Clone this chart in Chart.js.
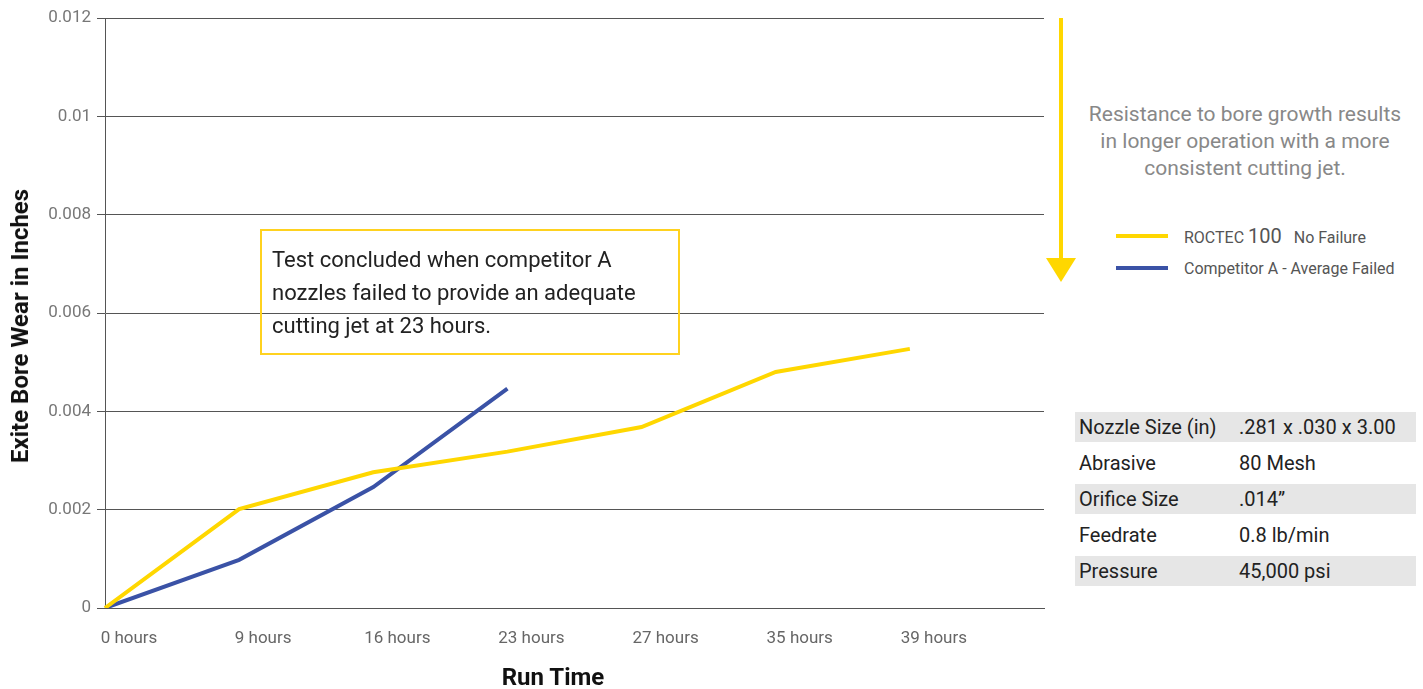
<!DOCTYPE html>
<html>
<head>
<meta charset="utf-8">
<script src="https://cdn.jsdelivr.net/npm/chart.js@4.4.1/dist/chart.umd.min.js"></script>
<style>
    body { margin: 0; background: #fff; font-family: "Liberation Sans Narrow", "Roboto", sans-serif; }
    #wrap { position: relative; width: 1423px; height: 689px; overflow: hidden; }
    #chartBox { position: absolute; left: 0; top: 0; width: 1065px; height: 689px; }
    .abs { position: absolute; }
    #yTitle { left: 20px; top: 326px; transform: translate(-50%, -50%) rotate(-90deg); font-weight: 700; font-size: 24px; color: #111; white-space: nowrap; }
    #xTitle { left: 553px; top: 677px; transform: translate(-50%, -50%); font-weight: 700; font-size: 24px; color: #111; white-space: nowrap; }
    #note { left: 260px; top: 229px; border: 2px solid #FFD21F; box-sizing: border-box; width: 420px; height: 126px; padding: 12px 10px; font-size: 22px; line-height: 33px; color: #222; }
    #arrowLine { left: 1059px; top: 18px; width: 4px; height: 242px; background: #FFD700; }
    #arrowHead { left: 1046px; top: 258px; width: 0; height: 0; border-left: 15px solid transparent; border-right: 15px solid transparent; border-top: 24px solid #FFD700; }
    #claim { left: 1080px; top: 101px; width: 330px; text-align: center; font-family: "Roboto", sans-serif; font-size: 21px; line-height: 27px; color: #888; }
    .legRow { left: 1116px; height: 20px; display: flex; align-items: center; font-size: 16px; color: #555; white-space: nowrap; }
    .legRow .sw { width: 52px; height: 4px; margin-right: 16px; }
    #specs { left: 1075px; top: 406px; width: 341px; border-collapse: separate; border-spacing: 0 6px; font-size: 20px; color: #222; }
    #specs td { height: 30px; padding: 0 0 0 4px; }
    #specs tr:nth-child(odd) td { background: #e6e6e6; }
    #specs td.v { padding-left: 0; }
</style>
</head>
<body>
<div id="wrap">
    <div id="chartBox"><canvas id="wearChart"></canvas></div>
    <div class="abs" id="yTitle">Exite Bore Wear in Inches</div>
    <div class="abs" id="xTitle">Run Time</div>
    <div class="abs" id="note">Test concluded when competitor A nozzles failed to provide an adequate cutting jet at 23 hours.</div>
    <div class="abs" id="arrowLine"></div>
    <div class="abs" id="arrowHead"></div>
    <div class="abs" id="claim">Resistance to bore growth results in longer operation with a more consistent cutting jet.</div>
    <div id="legend"></div>
    <table class="abs" id="specs"></table>
</div>
<script>
    // Data
    const runTimes = ['0 hours', '9 hours', '16 hours', '23 hours', '27 hours', '35 hours', '39 hours', ''];
    const roctecWear = [0, 0.00201, 0.00276, 0.00318, 0.00368, 0.00480, 0.00527];
    const competitorWear = [0, 0.00098, 0.00246, 0.00446];
    const yTicks = [0, 0.002, 0.004, 0.006, 0.008, 0.01, 0.012];
    const seriesNames = ['ROCTEC 100', 'Competitor A - Average Failed'];
    const seriesNotes = ['No Failure', ''];
    const seriesColors = ['#FFD700', '#3A52A6'];
    const specLabels = ['Nozzle Size (in)', 'Abrasive', 'Orifice Size', 'Feedrate', 'Pressure'];
    const specValues = ['.281 x .030 x 3.00', '80 Mesh', '.014\u201d', '0.8 lb/min', '45,000 psi'];

    const tickFont = { family: '"Liberation Sans Narrow", "Roboto", sans-serif', size: 17 };
    const gridColor = '#555';

    new Chart(document.getElementById('wearChart'), {
        type: 'line',
        data: {
            labels: runTimes,
            datasets: [
                { label: seriesNames[0], data: roctecWear, borderColor: seriesColors[0], backgroundColor: seriesColors[0], borderWidth: 4, pointRadius: 0, tension: 0 },
                { label: seriesNames[1], data: competitorWear, borderColor: seriesColors[1], backgroundColor: seriesColors[1], borderWidth: 4, pointRadius: 0, tension: 0 }
            ]
        },
        options: {
            responsive: true,
            maintainAspectRatio: false,
            animation: false,
            layout: { padding: { left: 0, right: 0, top: 18, bottom: 0 } },
            plugins: { legend: { display: false }, tooltip: { enabled: false } },
            scales: {
                x: {
                    offset: false,
                    grid: { display: false, drawTicks: false },
                    border: { display: true, color: gridColor },
                    ticks: { font: tickFont, color: '#666', padding: 21, labelOffset: 24, maxRotation: 0, autoSkip: false },
                    afterFit: s => { s.height = 81; }
                },
                y: {
                    min: 0,
                    max: 0.012,
                    afterBuildTicks: s => { s.ticks = yTicks.map(v => ({ value: v })); },
                    grid: { color: gridColor, tickLength: 8 },
                    border: { color: gridColor },
                    ticks: { font: tickFont, color: '#777', padding: 6, callback: v => String(+v.toFixed(3)) },
                    afterFit: s => { s.width = 105; }
                }
            }
        }
    });

    // Legend
    const legend = document.getElementById('legend');
    seriesNames.forEach((name, i) => {
        let label = name;
        if (name.startsWith('ROCTEC')) {
            label = 'ROCTEC <span style="font-size:20px">100</span>&nbsp;&nbsp; ' + seriesNotes[i];
        }
        legend.innerHTML += `<div class="abs legRow" style="top:${226 + i * 32}px"><span class="sw" style="background:${seriesColors[i]}"></span><span>${label}</span></div>`;
    });

    // Specs table
    let html = '';
    specLabels.forEach((lbl, i) => {
        html += `<tr><td style="width:160px">${lbl}</td><td class="v">${specValues[i]}</td></tr>`;
    });
    document.getElementById('specs').innerHTML = html;
</script>
</body>
</html>
